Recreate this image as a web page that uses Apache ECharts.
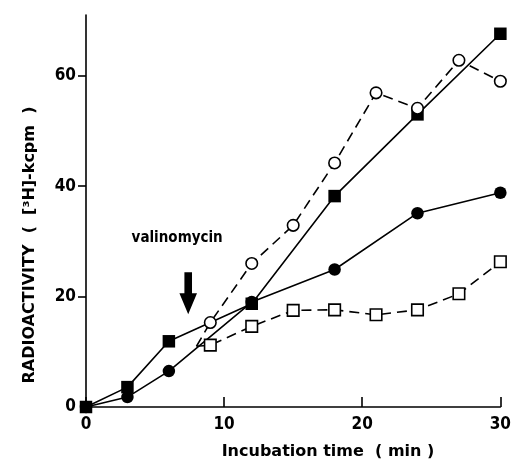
<!DOCTYPE html>
<html>
<head>
<meta charset="utf-8">
<script src="https://cdn.jsdelivr.net/npm/echarts@6/dist/echarts.min.js"></script>
<style>
  html, body { margin: 0; padding: 0; background: #fff; }
  #chart { width: 514px; height: 466px; }
</style>
</head>
<body>
<div id="chart"></div>
<script>
// ---- data ----
const filledSquareTime = [0, 3, 6, 12, 18, 24, 30];
const filledSquareValue = [0, 3.6, 11.9, 18.7, 38.2, 53.0, 67.6];

const filledCircleTime = [0, 3, 6, 12, 18, 24, 30];
const filledCircleValue = [0, 1.8, 6.5, 19.0, 24.9, 35.1, 38.8];

// dashed series start where valinomycin was added (branch point, no marker)
const openCircleTime = [8, 9, 12, 15, 18, 21, 24, 27, 30];
const openCircleValue = [11, 15.3, 26.0, 32.9, 44.2, 56.9, 54.1, 62.8, 59.0];

const openSquareTime = [8, 9, 12, 15, 18, 21, 24, 27, 30];
const openSquareValue = [11, 11.2, 14.6, 17.5, 17.6, 16.7, 17.6, 20.5, 26.3];

const xTicks = [0, 10, 20, 30];
const yLabelValues = [0, 20, 40, 60];
const yTickValues = [20, 40, 60];

const annotationText = 'valinomycin';
const annotationPos = [6.6, 30.6];
const arrowTop = [7.4, 24.4];
const arrowHeadBase = [7.4, 20.6];
const arrowTip = [7.4, 16.8];

const xTitle = 'Incubation time  ( min )';
const yTitle = 'RADIOACTIVITY  (  [³H]-kcpm  )';

// ---- chart ----
const FONT_C = '"DejaVu Sans Condensed", "DejaVu Sans", sans-serif';
const FONT = '"DejaVu Sans", sans-serif';
function pairs(xs, ys, skipFirstSymbol) {
  return xs.map((x, i) => {
    const d = { value: [x, ys[i]] };
    if (skipFirstSymbol && i === 0) d.symbol = 'none';
    return d;
  });
}

const chart = echarts.init(document.getElementById('chart'), null, { renderer: 'canvas' });

const option = {
  backgroundColor: '#ffffff',
  animation: false,
  grid: { left: 86, right: 9, top: 15, bottom: 59, containLabel: false },
  xAxis: {
    type: 'value', min: 0, max: 30, interval: 10,
    axisLine: { show: true, onZero: false, lineStyle: { color: '#000', width: 1.6 } },
    axisTick: { show: true, inside: true, length: 10, lineStyle: { color: '#000', width: 1.6 } },
    axisLabel: { color: '#000', fontFamily: FONT_C, fontWeight: 'bold', fontSize: 17, margin: 9,
      customValues: xTicks },
    splitLine: { show: false }
  },
  yAxis: {
    type: 'value', min: 0, max: 71,
    axisLine: { show: true, onZero: false, lineStyle: { color: '#000', width: 1.6 } },
    axisTick: { show: true, inside: false, length: 8, customValues: yTickValues,
      lineStyle: { color: '#000', width: 1.6 } },
    axisLabel: { color: '#000', fontFamily: FONT_C, fontWeight: 'bold', fontSize: 17, margin: 10,
      customValues: yLabelValues },
    splitLine: { show: false }
  },
  series: [
    {
      type: 'line', name: 'filled squares', z: 2,
      data: pairs(filledSquareTime, filledSquareValue, false),
      symbol: 'rect', symbolSize: 12.5,
      itemStyle: { color: '#000' },
      lineStyle: { color: '#000', width: 1.6 }
    },
    {
      type: 'line', name: 'filled circles', z: 3,
      data: pairs(filledCircleTime, filledCircleValue, false),
      symbol: 'circle', symbolSize: 12.5,
      itemStyle: { color: '#000' },
      lineStyle: { color: '#000', width: 1.6 }
    },
    {
      type: 'line', name: 'open circles', z: 4,
      data: pairs(openCircleTime, openCircleValue, true),
      symbol: 'circle', symbolSize: 11.5, showAllSymbol: true,
      itemStyle: { color: '#fff', borderColor: '#000', borderWidth: 1.6 },
      lineStyle: { color: '#000', width: 1.6, type: [10, 6] }
    },
    {
      type: 'line', name: 'open squares', z: 4,
      data: pairs(openSquareTime, openSquareValue, true),
      symbol: 'rect', symbolSize: 11.5, showAllSymbol: true,
      itemStyle: { color: '#fff', borderColor: '#000', borderWidth: 1.6 },
      lineStyle: { color: '#000', width: 1.6, type: [10, 6] }
    }
  ]
};
chart.setOption(option);

function place() {
  const px = v => chart.convertToPixel({ gridIndex: 0 }, v);
  const t = px(arrowTop), b = px(arrowHeadBase), tip = px(arrowTip), lab = px(annotationPos);
  const sw = 3.8, hw = 8.8;
  chart.setOption({
    graphic: [
      {
        type: 'polygon', z: 10,
        shape: { points: [
          [t[0] - sw, t[1]], [t[0] + sw, t[1]], [b[0] + sw, b[1]], [b[0] + hw, b[1]],
          [tip[0], tip[1]], [b[0] - hw, b[1]], [b[0] - sw, b[1]]
        ] },
        style: { fill: '#000' }
      },
      {
        type: 'text', z: 10, x: lab[0], y: lab[1],
        style: { text: annotationText, fill: '#000', font: 'bold 15px ' + FONT_C,
          textAlign: 'center', textVerticalAlign: 'middle' }
      },
      {
        type: 'text', z: 10, x: 328, y: 452,
        style: { text: xTitle, fill: '#000', font: 'bold 16px ' + FONT,
          textAlign: 'center', textVerticalAlign: 'middle' }
      },
      {
        type: 'text', z: 10, x: 30, y: 245, rotation: Math.PI / 2,
        style: { text: yTitle, fill: '#000', font: 'bold 16px ' + FONT,
          textAlign: 'center', textVerticalAlign: 'middle' }
      }
    ]
  });
}
place();
</script>
</body>
</html>
